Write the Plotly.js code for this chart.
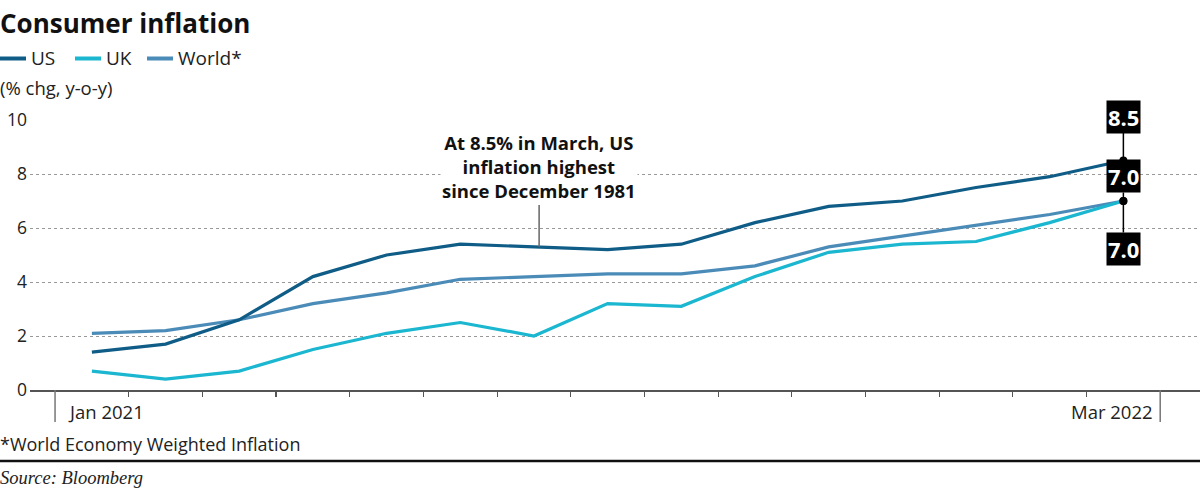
<!DOCTYPE html>
<html>
<head>
<meta charset="utf-8">
<script src="https://cdn.plot.ly/plotly-3.0.1.min.js"></script>
<style>html,body{margin:0;padding:0;background:#fff;}#chart{width:1200px;height:498px;}</style>
</head>
<body>
<div id="chart"></div>
<script>
// Data
const months = ["Jan 2021","Feb 2021","Mar 2021","Apr 2021","May 2021","Jun 2021","Jul 2021","Aug 2021","Sep 2021","Oct 2021","Nov 2021","Dec 2021","Jan 2022","Feb 2022","Mar 2022"];
const usValues    = [1.4, 1.7, 2.6, 4.2, 5.0, 5.4, 5.3, 5.2, 5.4, 6.2, 6.8, 7.0, 7.5, 7.9, 8.5];
const ukValues    = [0.7, 0.4, 0.7, 1.5, 2.1, 2.5, 2.0, 3.2, 3.1, 4.2, 5.1, 5.4, 5.5, 6.2, 7.0];
const worldValues = [2.1, 2.2, 2.6, 3.2, 3.6, 4.1, 4.2, 4.3, 4.3, 4.6, 5.3, 5.7, 6.1, 6.5, 7.0];
const yTicks = [0, 2, 4, 6, 8, 10];
const xTickLabels = ["Jan 2021", "Mar 2022"];

const C_US = "#0f5c87", C_UK = "#1bb6cf", C_WORLD = "#4b8bb8";
const FONT = "'Open Sans', Lato, sans-serif";

const idx = months.map((m, i) => i);
const last = idx.length - 1;

// pixel -> paper helpers (plot area: x 30..1200, y 120..390)
const L = 30, R = 0, T = 120, B = 108, W = 1200, H = 498;
const pw = W - L - R, ph = H - T - B;
const PX = p => (p - L) / pw;
const PY = p => (H - B - p) / ph;

function line(x, y, color) {
  return {x: x, y: y, type: "scatter", mode: "lines", line: {color: color, width: 3.2}, hoverinfo: "skip", showlegend: false};
}
const traces = [
  line(idx, worldValues, C_WORLD),
  line(idx, ukValues, C_UK),
  line(idx, usValues, C_US),
  {x: [last, last, last], y: [usValues[last], ukValues[last], worldValues[last]], type: "scatter", mode: "markers",
   marker: {color: "#000", size: 8}, hoverinfo: "skip", showlegend: false}
];

const annotations = [];
const shapes = [];

// legend
const legendItems = [["US", C_US, 0], ["UK", C_UK, 75], ["World*", C_WORLD, 147]];
legendItems.forEach(([name, col, x0]) => {
  shapes.push({type: "line", xref: "paper", yref: "paper", x0: PX(x0), x1: PX(x0 + 26), y0: PY(58.5), y1: PY(58.5), line: {color: col, width: 4}});
  annotations.push({xref: "paper", yref: "paper", x: PX(x0 + 29), y: PY(58), xanchor: "left", yanchor: "middle", showarrow: false, text: name, font: {family: FONT, size: 19, color: "#222"}});
});
annotations.push({xref: "paper", yref: "paper", x: PX(-2), y: PY(87), xanchor: "left", yanchor: "middle", showarrow: false, text: "(% chg, y-o-y)", font: {family: FONT, size: 18.5, color: "#222"}});

// footnote & source
annotations.push({xref: "paper", yref: "paper", x: PX(-2), y: PY(444), xanchor: "left", yanchor: "middle", showarrow: false, text: "*World Economy Weighted Inflation", font: {family: FONT, size: 18, color: "#222"}});
shapes.push({type: "line", xref: "paper", yref: "paper", x0: PX(0), x1: PX(1200), y0: PY(461), y1: PY(461), line: {color: "#111", width: 2.5}});
annotations.push({xref: "paper", yref: "paper", x: PX(-2), y: PY(478), xanchor: "left", yanchor: "middle", showarrow: false, text: "<i>Source: Bloomberg</i>", font: {family: "'Liberation Serif', 'DejaVu Serif', serif", size: 18.5, color: "#222"}});

// x tick labels
annotations.push({xref: "x", yref: "paper", x: 0, y: PY(411), xanchor: "center", yanchor: "middle", xshift: 14, showarrow: false, text: xTickLabels[0], font: {family: FONT, size: 18.5, color: "#222"}});
annotations.push({xref: "x", yref: "paper", x: last, y: PY(411), xanchor: "center", yanchor: "middle", xshift: -11, showarrow: false, text: xTickLabels[1], font: {family: FONT, size: 18.5, color: "#222"}});

// long end ticks
[-0.5, last + 0.5].forEach(v => {
  shapes.push({type: "line", xref: "x", yref: "paper", x0: v, x1: v, y0: 0, y1: PY(422), line: {color: "#777", width: 1.5}});
});

// US annotation
annotations.push({xref: "x", yref: "y", x: 6.07, y: usValues[6], ax: 0, ay: -80, showarrow: true, arrowhead: 0, arrowwidth: 1.5, arrowcolor: "#666",
  text: "<b>At 8.5% in March, US<br>inflation highest<br>since December 1981</b>", align: "center", bgcolor: "#fff", borderpad: 1,
  font: {family: FONT, size: 18.5, color: "#111"}});

// endpoint labels
function endLabel(y, ay, txt) {
  return {xref: "x", yref: "y", x: last, y: y, ax: 0, ay: ay, showarrow: true, arrowhead: 0, arrowwidth: 1.5, arrowcolor: "#000",
    text: "<b>" + txt + "</b>", bgcolor: "#000", borderpad: 1, font: {family: FONT, size: 22, color: "#fff"}};
}
annotations.push(endLabel(usValues[last], -44, usValues[last].toFixed(1)));
annotations.push(endLabel(worldValues[last], -25, worldValues[last].toFixed(1)));
annotations.push(endLabel(ukValues[last], 48, ukValues[last].toFixed(1)));

const layout = {
  width: W, height: H,
  margin: {l: L, r: R, t: T, b: B, pad: 0},
  paper_bgcolor: "#fff", plot_bgcolor: "#fff",
  title: {text: "<b>Consumer inflation</b>", x: 0, xref: "container", xanchor: "left", y: 1 - 24 / H, yref: "container", yanchor: "middle",
    font: {family: FONT, size: 26, color: "#111"}},
  showlegend: false,
  xaxis: {range: [-0.84, 15.04], showgrid: false, zeroline: false, showline: true, linecolor: "#555", linewidth: 1.5,
    tickmode: "array", tickvals: idx.slice(0, last).map(i => i + 0.5), ticktext: idx.slice(0, last).map(() => ""),
    ticks: "outside", ticklen: 5, tickcolor: "#555", tickwidth: 1.2, showticklabels: false, fixedrange: true},
  yaxis: {range: [0, 10], tickmode: "array", tickvals: yTicks, ticktext: yTicks.map(String), showgrid: true, gridcolor: "#999",
    griddash: "dot", gridwidth: 1, zeroline: false, showline: false, ticks: "", ticklabelstandoff: 2,
    tickfont: {family: FONT, size: 17.5, color: "#222"}, fixedrange: true},
  annotations: annotations,
  shapes: shapes
};

Plotly.newPlot("chart", traces, layout, {staticPlot: true, displayModeBar: false});
</script>
</body>
</html>
